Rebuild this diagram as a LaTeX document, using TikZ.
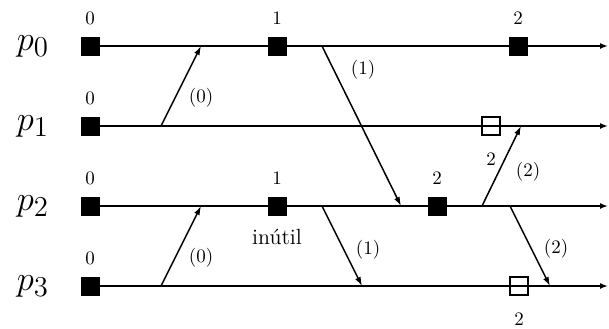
\documentclass[tikz,border=0pt]{standalone}
\usetikzlibrary{arrows.meta}

\begin{document}
\begin{tikzpicture}[x=0.5pt, y=-0.5pt,
    ckpt/.style={draw, fill=black, minimum size=9pt, inner sep=0pt},
    hollow/.style={draw, minimum size=9pt, inner sep=0pt, line width=0.6pt},
    num/.style={font=\fontsize{9.5}{11}\selectfont},
    proc/.style={-{Latex[length=4pt,width=3pt]}, line width=1pt},
    msg/.style={-{Latex[length=4.5pt,width=3pt]}, line width=0.75pt},
    plabel/.style={font=\fontsize{19}{22}\selectfont}
  ]
    \useasboundingbox (0,0) rectangle (609,328);

    \node[plabel] (p0) at (33,46) {$p_0$};
    \node[plabel] (p1) at (33,126) {$p_1$};
    \node[plabel] (p2) at (33,206) {$p_2$};
    \node[plabel] (p3) at (33,286) {$p_3$};

    \node[ckpt, label={[num,label distance=2.5pt]above:0}] (c00) at (90,46) {};
    \node[ckpt, label={[num,label distance=2.5pt]above:1}] (c01) at (277,46) {};
    \node[ckpt, label={[num,label distance=2.5pt]above:2}] (c02) at (518,46) {};
    \node[ckpt, label={[num,label distance=2.5pt]above:0}] (c10) at (90,126) {};
    \node[ckpt, label={[num,label distance=2.5pt]above:0}] (c20) at (90,206) {};
    \node[ckpt, label={[num,label distance=2.5pt]above:1}] (c21) at (277,206) {};
    \node[ckpt, label={[num,label distance=2.5pt]above:2}] (c22) at (437,206) {};
    \node[ckpt, label={[num,label distance=2.5pt]above:0}] (c30) at (90,286) {};

    \node[hollow, label={[num,label distance=5pt]below:2}] (h1) at (491,126) {};
    \node[hollow, label={[num,label distance=5pt]below:2}] (h3) at (519,286) {};

    \node[font=\fontsize{11}{13}\selectfont] (useless) at (277,237) {inútil};

    \coordinate (e0) at (608,46);
    \coordinate (e1) at (608,126);
    \coordinate (e2) at (608,206);
    \coordinate (e3) at (608,286);

    \draw[proc] (c00.center) -- (e0);
    \draw[proc] (c10.center) -- (e1);
    \draw[proc] (c20.center) -- (e2);
    \draw[proc] (c30.center) -- (e3);

    \coordinate (s1) at (161,126);
    \coordinate (r1) at (201,46);
    \coordinate (s2) at (322,46);
    \coordinate (r2) at (401,206);
    \coordinate (s3) at (161,286);
    \coordinate (r3) at (201,206);
    \coordinate (s4) at (322,206);
    \coordinate (r4) at (362,286);
    \coordinate (s5) at (482,206);
    \coordinate (r5) at (521,126);
    \coordinate (s6) at (510,206);
    \coordinate (r6) at (550,286);

    \draw[msg] (s1) -- (r1);
    \draw[msg] (s2) -- (r2);
    \draw[msg] (s3) -- (r3);
    \draw[msg] (s4) -- (r4);
    \draw[msg] (s5) -- (r5);
    \draw[msg] (s6) -- (r6);

    \node[num] (m1) at (201,98) {(0)};
    \node[num] (m2) at (363,70) {(1)};
    \node[num] (m3) at (201,258) {(0)};
    \node[num] (m4) at (368,250) {(1)};
    \node[num] (m5) at (528,172) {(2)};
    \node[num] (m6) at (556,249) {(2)};
\end{tikzpicture}
\end{document}
